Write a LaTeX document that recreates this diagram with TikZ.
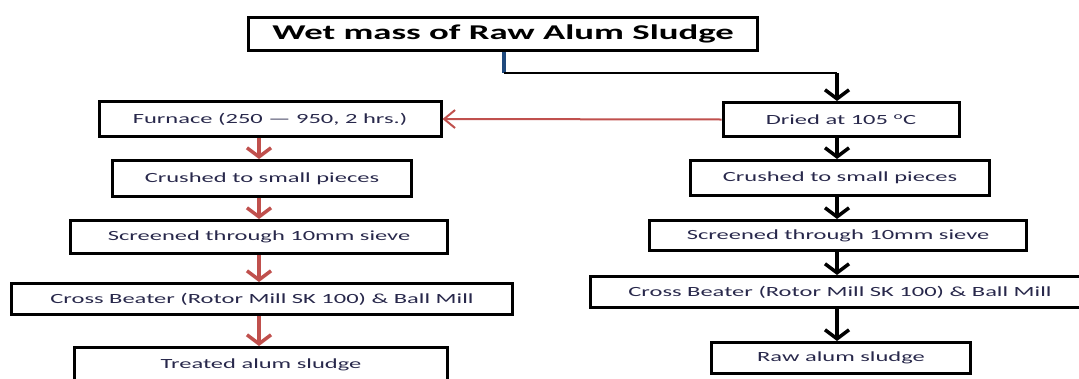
\documentclass[tikz,border=0pt]{standalone}
\usepackage{fontspec}
\setmainfont{Carlito}[FakeStretch=1.75]
\usetikzlibrary{arrows.meta}
\definecolor{sludgered}{RGB}{192,80,77}
\definecolor{sludgeblue}{RGB}{31,73,125}
\definecolor{labelink}{RGB}{40,40,75}

\begin{document}
\begin{tikzpicture}[x=1pt,y=-1pt,
  stepbox/.style={draw,line width=3pt,inner sep=0pt,text=labelink,font=\fontsize{14}{16}\selectfont},
  redarrow/.style={draw=sludgered,line width=3.5pt,-{Straight Barb[length=9pt,width=24pt]}},
  blackarrow/.style={draw=black,line width=3.5pt,-{Straight Barb[length=9pt,width=24pt]}}]
  \clip (0,0) rectangle (1079,378);

  % Coordinates
  \coordinate (colL) at (259,0);
  \coordinate (colR) at (837,0);
  \coordinate (bendA) at (504,73);
  \coordinate (bendB) at (837,73);

  % Boxes
  \node[stepbox,minimum width=509pt,minimum height=33pt,text=black,
        font=\fontsize{21}{24}\selectfont\bfseries] (wet) at (503,34) {Wet mass of Raw Alum Sludge};
  \node[stepbox,minimum width=342pt,minimum height=35pt] (furnace) at (270,119) {Furnace (250 --- 950, 2 hrs.)};
  \node[stepbox,minimum width=299pt,minimum height=36pt] (crushL) at (262,178.5) {Crushed to small pieces};
  \node[stepbox,minimum width=377pt,minimum height=33pt] (screenL) at (259,237) {Screened through 10mm sieve};
  \node[stepbox,minimum width=501pt,minimum height=31pt] (crossL) at (262,299) {Cross Beater (Rotor Mill SK 100) \& Ball Mill};
  \node[stepbox,minimum width=373pt,minimum height=35pt] (treated) at (261,365) {Treated alum sludge};
  \node[stepbox,minimum width=236pt,minimum height=34pt] (dried) at (841,119.5) {Dried at 105 \textsuperscript{o}C};
  \node[stepbox,minimum width=299pt,minimum height=35pt] (crushR) at (840,178) {Crushed to small pieces};
  \node[stepbox,minimum width=377pt,minimum height=30pt] (screenR) at (838,235.5) {Screened through 10mm sieve};
  \node[stepbox,minimum width=499pt,minimum height=31pt] (crossR) at (840,292) {Cross Beater (Rotor Mill SK 100) \& Ball Mill};
  \node[stepbox,minimum width=259pt,minimum height=31pt] (raw) at (841,358) {Raw alum sludge};

  % Drawing
  \draw[sludgeblue,line width=3.5pt] (wet.south -| bendA) -- (bendA);
  \draw[line width=2.5pt] (bendA) -- (bendB);
  \draw[blackarrow] (bendB) -- (dried.north -| colR);
  \draw[draw=sludgered,line width=2pt,-{Straight Barb[length=11pt,width=18pt]}] (dried.west) -- (furnace.east);
  \draw[redarrow] (furnace.south -| colL) -- (crushL.north -| colL);
  \draw[redarrow] (crushL.south -| colL) -- (screenL.north -| colL);
  \draw[redarrow] (screenL.south -| colL) -- (crossL.north -| colL);
  \draw[redarrow] (crossL.south -| colL) -- (treated.north -| colL);
  \draw[blackarrow] (dried.south -| colR) -- (crushR.north -| colR);
  \draw[blackarrow] (crushR.south -| colR) -- (screenR.north -| colR);
  \draw[blackarrow] (screenR.south -| colR) -- (crossR.north -| colR);
  \draw[blackarrow] (crossR.south -| colR) -- (raw.north -| colR);
\end{tikzpicture}
\end{document}
